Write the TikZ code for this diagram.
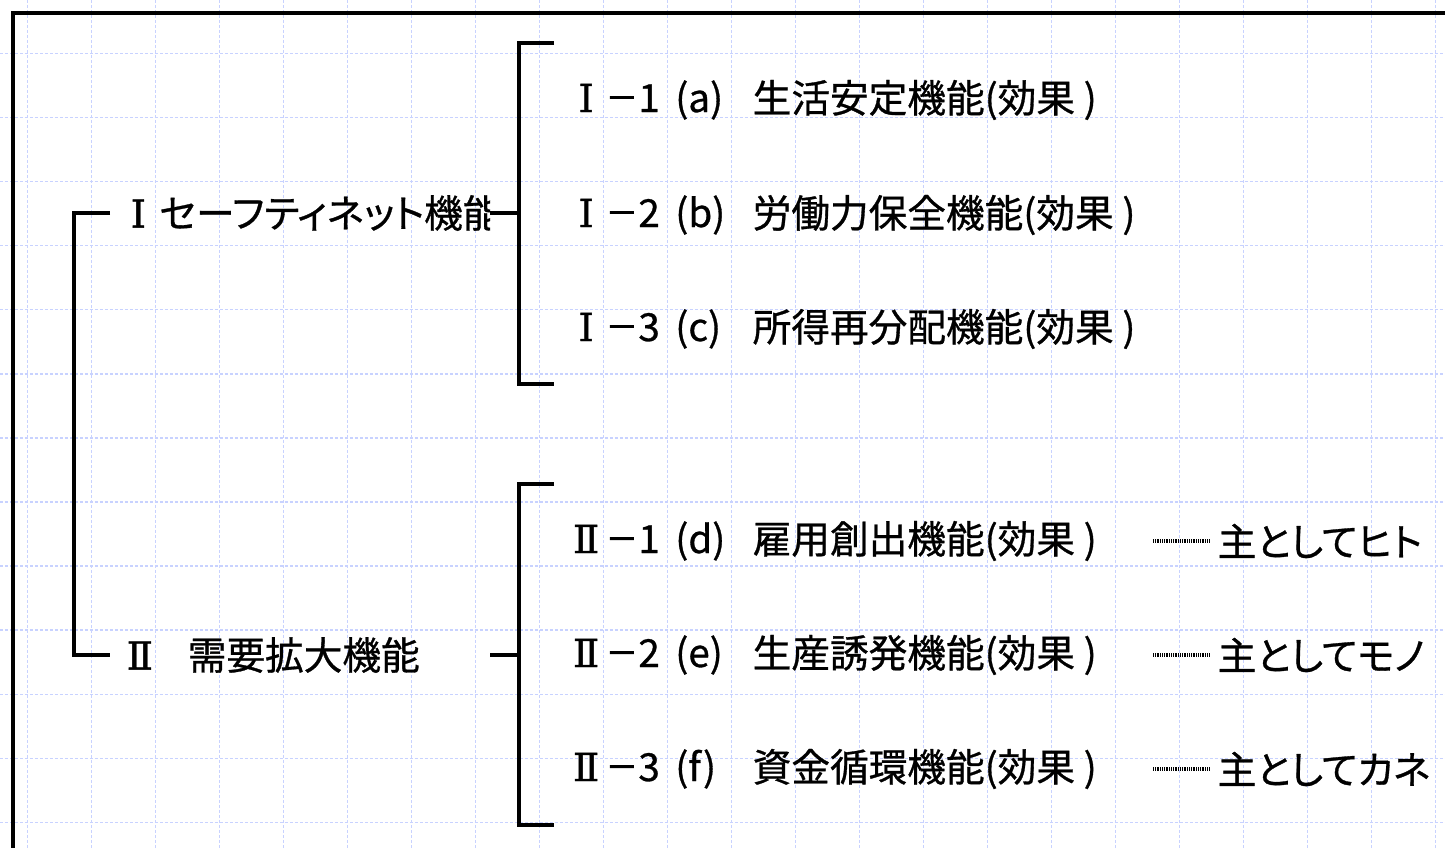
\documentclass[tikz,border=0pt]{standalone}
\usepackage{fontspec}
\setmainfont{Noto Sans CJK JP}[RawFeature=+palt, FakeBold=0.8]
\newfontfamily\numfont{DejaVu Serif}[FakeBold=1]
\usepackage{tikz}
\definecolor{gridblue}{RGB}{200,210,255}

\begin{document}
\begin{tikzpicture}[x=0.1mm,y=-0.1mm,
                    grid_line/.style={draw=gridblue, line width=0.15mm, dash pattern=on 0.3mm off 0.2mm},
                    branch/.style={draw=black, line width=0.45mm},
                    leader/.style={draw=black, line width=0.35mm, dash pattern=on 0.1mm off 0.08mm, shorten >=0.7mm},
                    head_node/.style={anchor=west, inner sep=0pt, font=\fontsize{11}{13}\selectfont},
                    item_node/.style={anchor=west, inner sep=0pt, font=\fontsize{11}{13}\selectfont}
                ]
                    \useasboundingbox (0,0) rectangle (1445,848);
                    \foreach \i in {0,...,22}
                        \draw[grid_line] (27.7+64*\i,0) -- (27.7+64*\i,848);
                    \foreach \i in {0,...,12}
                        \draw[grid_line] (0,53.3+64.1*\i) -- (1445,53.3+64.1*\i);
                    \draw[line width=0.45mm] (13,848) -- (13,13) -- (1445,13);

                    \begin{scope}
                        \clip (0,150) rectangle (490,280);
                        \node[head_node] (safety) at (130,213) {{\numfont Ⅰ}\hspace{0.35em}セーフティネット機能};
                    \end{scope}
                    \node[head_node] (demand) at (126,655) {{\numfont Ⅱ}\hspace{0.9em}需要拡大機能};

                    \coordinate (l1) at (110,213);
                    \coordinate (lspine) at (74,434);
                    \coordinate (l2) at (110,655);
                    \draw[branch] (l1) -| (lspine) |- (l2);

                    \coordinate (s1) at (490,213);
                    \coordinate (g1top) at (554,43);
                    \coordinate (g1mid) at (519,213);
                    \coordinate (g1bot) at (554,384);
                    \draw[branch] (g1top) -| (g1mid) |- (g1bot);
                    \draw[branch] (s1) -- (g1mid);

                    \coordinate (s2) at (490,655);
                    \coordinate (g2top) at (554,484);
                    \coordinate (g2mid) at (519,655);
                    \coordinate (g2bot) at (554,825);
                    \draw[branch] (g2top) -| (g2mid) |- (g2bot);
                    \draw[branch] (s2) -- (g2mid);

                    \foreach \n/\y/\num/\k/\lt/\fn in {1/100/Ⅰ/1/a/生活安定機能(効果 ),
                                                        2/215/Ⅰ/2/b/労働力保全機能(効果 ),
                                                        3/329/Ⅰ/3/c/所得再分配機能(効果 ),
                                                        4/541/Ⅱ/1/d/雇用創出機能(効果 ),
                                                        5/655/Ⅱ/2/e/生産誘発機能(効果 ),
                                                        6/769/Ⅱ/3/f/資金循環機能(効果 )} {
                        \node[item_node] (c\n) at (570,\y)
                            {\makebox[0.8em]{\numfont\num}\hspace{0.1em}\scalebox{0.85}[1]{－}\k\hspace{0.4em}(\lt)};
                        \node[item_node] (f\n) at (752,\y) {\fn};
                    }

                    \foreach \n/\y/\tag in {4/541/主としてヒト,
                                            5/655/主としてモノ,
                                            6/769/主としてカネ} {
                        \coordinate (d\n) at (1153,\y);
                        \node[item_node] (t\n) at (1217,\y) {\tag};
                        \draw[leader] (d\n) -- (t\n.west);
                    }
                \end{tikzpicture}
\end{document}
